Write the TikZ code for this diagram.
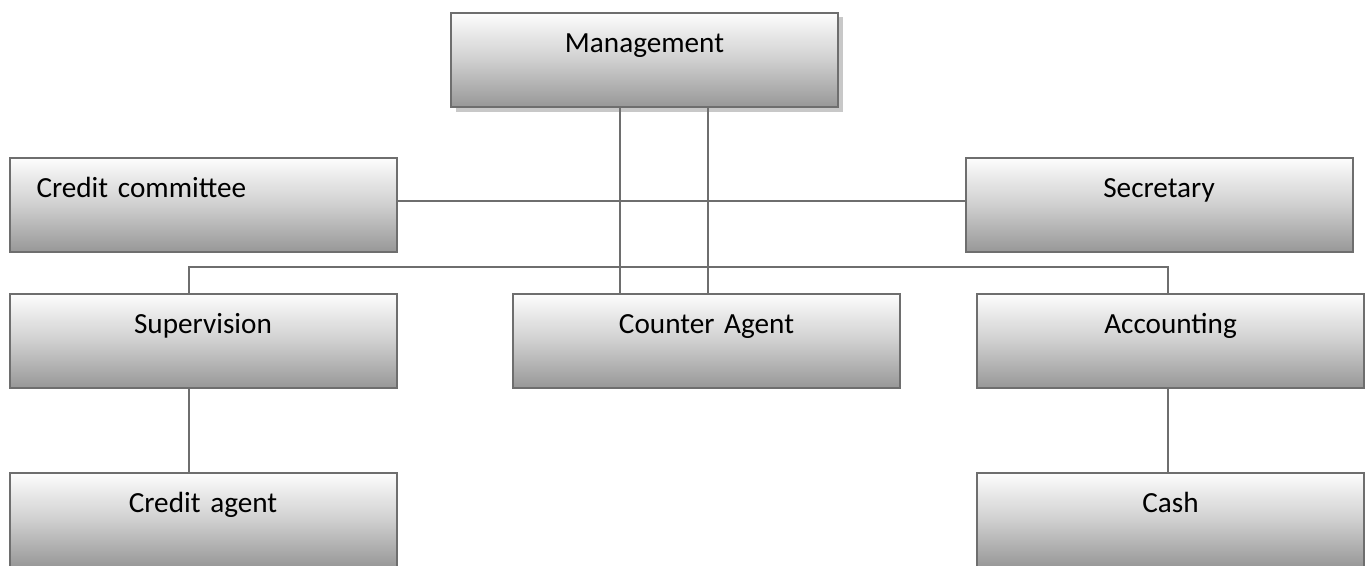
\documentclass[tikz,border=0pt]{standalone}
\usepackage{fontspec}
\setmainfont{Carlito}
\definecolor{edge}{RGB}{110,110,110}
\definecolor{topc}{RGB}{253,253,253}
\definecolor{botc}{RGB}{152,152,152}
\definecolor{shadowc}{RGB}{200,200,200}
\tikzset{
  orgbox/.style={rectangle, draw=edge, line width=2pt,
    top color=topc, bottom color=botc, middle color=topc!55!botc,
    minimum width=387pt, minimum height=94pt,
    inner xsep=0pt, inner ysep=0pt, text width=387pt, align=center,
    text height=40pt, text depth=54pt,
    font=\fontsize{29.2}{35}\selectfont},
  leftbox/.style={orgbox, inner xsep=27pt, text width=333pt, align=left},
  conn/.style={draw=edge, line width=2pt}
}
\begin{document}
\begin{tikzpicture}[x=1pt,y=-1pt]
\useasboundingbox (0,0) rectangle (1367,565);
\clip (0,0) rectangle (1367,565);
% shadow of management box
\fill[shadowc] (456,17) rectangle (843,112);
\node[orgbox] (mgmt) at (644.5,59.5) {Management};
\node[leftbox] (cc) at (203,204.5) {Credit committee};
\node[orgbox] (sec) at (1159,204.5) {Secretary};
\node[orgbox] (sup) at (203,340.5) {Supervision};
\node[orgbox] (ca) at (706.5,340.5) {Counter Agent};
\node[orgbox] (acc) at (1170.5,340.5) {Accounting};
\node[orgbox] (cra) at (203,519.5) {Credit agent};
\node[orgbox] (cash) at (1170.5,519.5) {Cash};
\coordinate (hl) at (0,201);
\coordinate (l1) at (620,0);
\coordinate (l2) at (708,0);
\coordinate (b1) at (189,267);
\coordinate (b2) at (1168,267);
\draw[conn] (cc.east |- hl) -- (sec.west |- hl);
\draw[conn] (sup.north -| b1) -- (b1) -- (b2) -- (acc.north -| b2);
\draw[conn] (mgmt.south -| l1) -- (ca.north -| l1);
\draw[conn] (mgmt.south -| l2) -- (ca.north -| l2);
\draw[conn] (sup.south -| b1) -- (cra.north -| b1);
\draw[conn] (acc.south -| b2) -- (cash.north -| b2);
\end{tikzpicture}
\end{document}
